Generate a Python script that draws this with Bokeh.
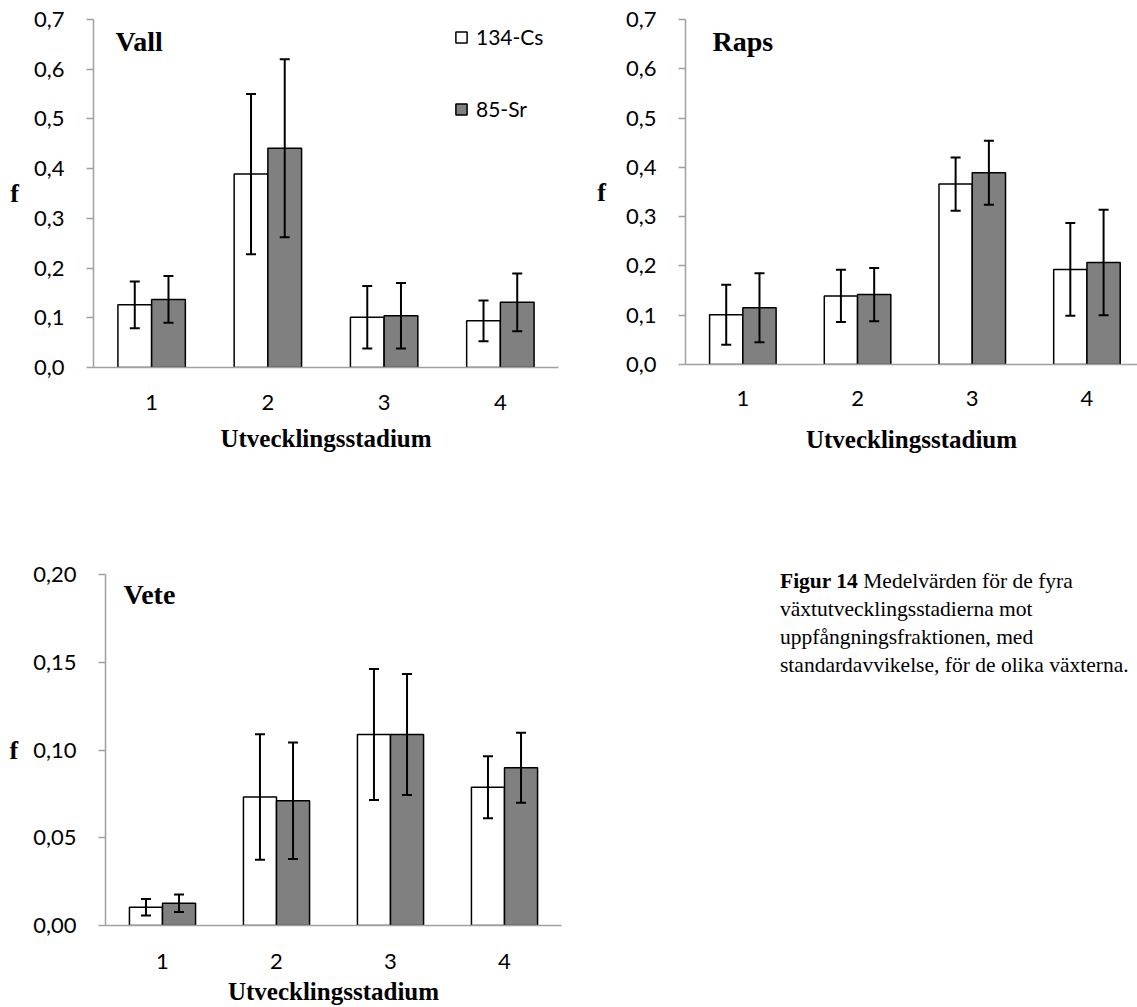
from bokeh.plotting import figure
from bokeh.models import (Range1d, FixedTicker, CustomJSTickFormatter, Whisker, TeeHead,
                          ColumnDataSource, Label, Legend, LegendItem, Div)
from bokeh.transform import dodge
from bokeh.layouts import row, column
from bokeh.embed import file_html
from bokeh.resources import INLINE

# ---------------- data ----------------
stages = [1, 2, 3, 4]
series_names = ["134-Cs", "85-Sr"]
x_title = "Utvecklingsstadium"
y_title = "f"

vall_cs = [0.126, 0.389, 0.101, 0.094]
vall_cs_sd = [0.047, 0.161, 0.063, 0.041]
vall_sr = [0.137, 0.441, 0.104, 0.131]
vall_sr_sd = [0.047, 0.179, 0.066, 0.058]

raps_cs = [0.101, 0.139, 0.366, 0.193]
raps_cs_sd = [0.061, 0.053, 0.054, 0.094]
raps_sr = [0.115, 0.142, 0.389, 0.207]
raps_sr_sd = [0.070, 0.054, 0.065, 0.107]

vete_cs = [0.0104, 0.0732, 0.1088, 0.0788]
vete_cs_sd = [0.0047, 0.0358, 0.0373, 0.0177]
vete_sr = [0.0127, 0.0711, 0.1088, 0.0899]
vete_sr_sd = [0.0050, 0.0332, 0.0345, 0.0199]

caption_bold = "Figur 14"
caption_rest = ["Medelvärden för de fyra", "växtutvecklingsstadierna mot",
                "uppfångningsfraktionen, med", "standardavvikelse, för de olika växterna."]

TICK_FONT = "Lato"
SERIF = "Liberation Serif"
AXIS_GRAY = "#a0a0a0"
BAR_W = 0.29
OFF = 0.145


def panel(name, cs, cs_sd, sr, sr_sd, y_end, y_step, decimals,
          borders, frame_w, frame_h, x_end, title_pos, standoffs, legend_pos=None):
    bl, bt, br, bb = borders
    x_lab_so, x_title_so, y_title_so = standoffs
    p = figure(frame_width=frame_w, frame_height=frame_h,
               min_border_left=bl, min_border_top=bt,
               min_border_right=br, min_border_bottom=bb,
               x_range=Range1d(0.5, x_end), y_range=Range1d(0, y_end),
               output_backend="svg", toolbar_location=None, tools="")
    p.outline_line_color = None
    p.grid.visible = False
    p.background_fill_color = "white"
    p.border_fill_color = "white"

    src = ColumnDataSource(dict(
        stage=stages, cs=cs, sr=sr,
        cs_lo=[m - s for m, s in zip(cs, cs_sd)], cs_hi=[m + s for m, s in zip(cs, cs_sd)],
        sr_lo=[m - s for m, s in zip(sr, sr_sd)], sr_hi=[m + s for m, s in zip(sr, sr_sd)],
    ))

    r_cs = p.vbar(x=dodge("stage", -OFF, range=p.x_range), top="cs", width=BAR_W, source=src,
                  fill_color="white", line_color="black", line_width=1.5)
    r_sr = p.vbar(x=dodge("stage", OFF, range=p.x_range), top="sr", width=BAR_W, source=src,
                  fill_color="#808080", line_color="black", line_width=1.5)

    for off, lo, hi in [(-OFF, "cs_lo", "cs_hi"), (OFF, "sr_lo", "sr_hi")]:
        w = Whisker(base=dodge("stage", off, range=p.x_range), lower=lo, upper=hi, source=src,
                    line_color="black", line_width=2, level="overlay",
                    upper_head=TeeHead(size=10, line_width=2, line_color="black"),
                    lower_head=TeeHead(size=10, line_width=2, line_color="black"))
        p.add_layout(w)

    # x axis
    p.xaxis.ticker = FixedTicker(ticks=stages)
    p.xaxis.major_tick_out = 0
    p.xaxis.major_tick_in = 0
    p.xaxis.minor_tick_line_color = None
    p.xaxis.axis_line_color = AXIS_GRAY
    p.xaxis.axis_line_width = 1.5
    p.xaxis.major_label_standoff = x_lab_so
    p.xaxis.major_label_text_font = TICK_FONT
    p.xaxis.major_label_text_font_size = "22px"
    p.xaxis.major_label_text_color = "black"
    p.xaxis.axis_label = x_title
    p.xaxis.axis_label_text_font = SERIF
    p.xaxis.axis_label_text_font_style = "bold"
    p.xaxis.axis_label_text_font_size = "25px"
    p.xaxis.axis_label_text_color = "black"
    p.xaxis.axis_label_standoff = x_title_so

    # y axis
    nt = int(round(y_end / y_step))
    p.yaxis.ticker = FixedTicker(ticks=[round(i * y_step, 4) for i in range(nt + 1)])
    p.yaxis.formatter = CustomJSTickFormatter(
        code="return tick.toFixed(%d).replace('.', ',');" % decimals)
    p.yaxis.major_tick_out = 7
    p.yaxis.major_tick_in = 0
    p.yaxis.major_tick_line_color = AXIS_GRAY
    p.yaxis.major_tick_line_width = 1.5
    p.yaxis.minor_tick_line_color = None
    p.yaxis.axis_line_color = AXIS_GRAY
    p.yaxis.axis_line_width = 1.5
    p.yaxis.major_label_standoff = 22
    p.yaxis.major_label_text_font = TICK_FONT
    p.yaxis.major_label_text_font_size = "22px"
    p.yaxis.major_label_text_color = "black"
    p.yaxis.axis_label = y_title
    p.yaxis.axis_label_orientation = "horizontal"
    p.yaxis.axis_label_text_font = SERIF
    p.yaxis.axis_label_text_font_style = "bold"
    p.yaxis.axis_label_text_font_size = "26px"
    p.yaxis.axis_label_text_color = "black"
    p.yaxis.axis_label_standoff = y_title_so

    # panel title
    p.add_layout(Label(x=title_pos[0], y=title_pos[1], x_units="screen", y_units="screen",
                       text=name, text_font=SERIF, text_font_style="bold",
                       text_font_size="28px", text_color="black",
                       text_baseline="alphabetic"))

    if legend_pos is not None:
        leg = Legend(items=[LegendItem(label=series_names[0], renderers=[r_cs]),
                            LegendItem(label=series_names[1], renderers=[r_sr])],
                     location=legend_pos, orientation="vertical",
                     glyph_width=14, glyph_height=14, label_standoff=8,
                     label_text_font=TICK_FONT, label_text_font_size="21px",
                     label_text_color="black", spacing=47, padding=0, margin=0,
                     border_line_color=None, background_fill_alpha=0)
        p.add_layout(leg)
    return p


vall = panel("Vall", vall_cs, vall_cs_sd, vall_sr, vall_sr_sd, 0.7, 0.1, 1,
             (93, 19, 36, 133), 465, 348, 4.5,
             title_pos=(22, 326), standoffs=(27, 12, 12), legend_pos=(361, 246))
raps = panel("Raps", raps_cs, raps_cs_sd, raps_sr, raps_sr_sd, 0.7, 0.1, 1,
             (91, 19, 0, 136), 452, 345, 0.5 + 452 / 114.7,
             title_pos=(27, 323), standoffs=(26, 17, 17))
vete = panel("Vete", vete_cs, vete_cs_sd, vete_sr, vete_sr_sd, 0.20, 0.05, 2,
             (105, 74, 39, 82), 456, 351, 4.5,
             title_pos=(18, 331), standoffs=(28, 6, 12))

caption = Div(
    text="<b>%s</b> %s" % (caption_bold, "<br>".join(caption_rest)),
    width=357, height=130, margin=(67, 0, 0, 180),
    styles={"font-family": SERIF, "font-size": "21.5px", "line-height": "28px",
            "color": "black", "white-space": "nowrap"})

layout = column(row(vall, raps), row(vete, caption))

with open("out.html", "w") as f:
    f.write(file_html(layout, INLINE))
